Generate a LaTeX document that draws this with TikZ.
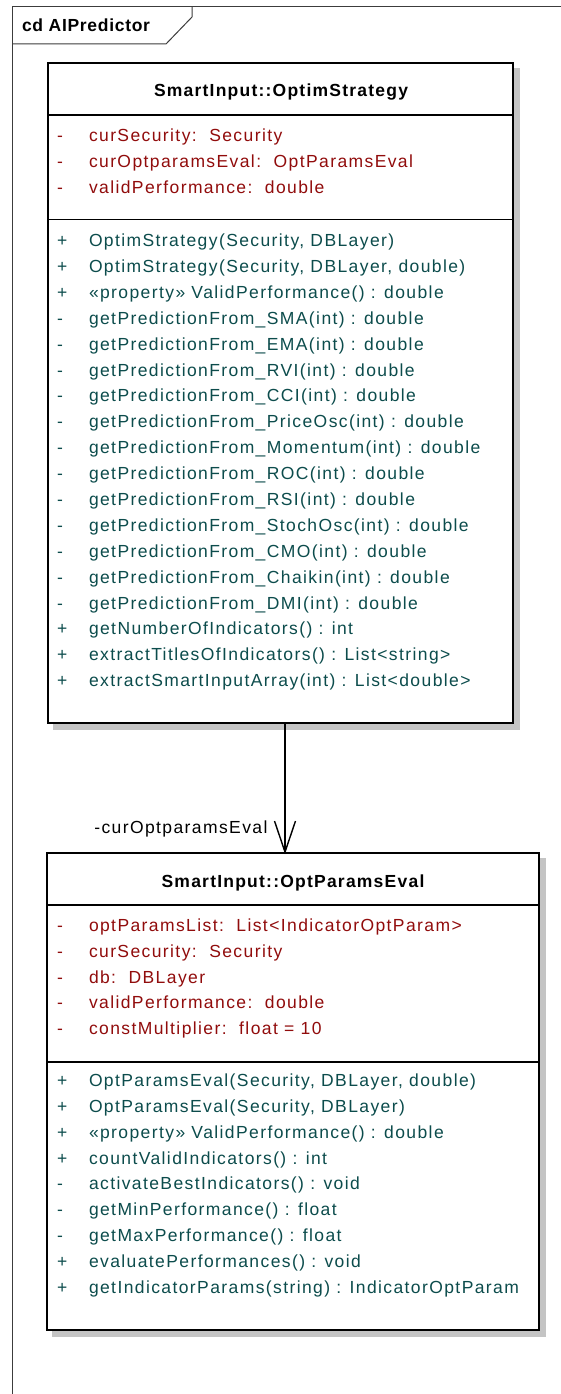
\documentclass[tikz,border=0pt]{standalone}
\usepackage{fontspec}
\setmainfont{Liberation Sans}
\usetikzlibrary{backgrounds}
\definecolor{attrc}{RGB}{145,12,12}
\definecolor{operc}{RGB}{12,76,76}
\definecolor{shadowc}{RGB}{196,196,196}
\definecolor{framec}{RGB}{60,60,60}
\begin{document}
\begin{tikzpicture}[x=1pt,y=-1pt,
  txt/.style={inner sep=0pt, outer sep=0pt, font=\fontsize{17.5}{19}\selectfont\addfontfeatures{LetterSpace=8}},
  ttl/.style={txt, font=\fontsize{17.5}{19}\selectfont\bfseries\addfontfeatures{LetterSpace=7}},
  tabttl/.style={txt, font=\fontsize{17.5}{19}\selectfont\bfseries\addfontfeatures{LetterSpace=4}},
  attr/.style={txt, text=attrc, anchor=base west},
  oper/.style={txt, text=operc, anchor=base west},
  classbox/.style={draw=black, line width=2pt, fill=white, anchor=north west, inner sep=0pt},
  sep/.style={draw=black, line width=1.4pt},
  framel/.style={draw=framec, line width=1pt},
  assoc/.style={draw=black, line width=1.4pt},
  shade/.style={fill=shadowc}]
\useasboundingbox (0,0) rectangle (561,1394);

% diagram frame and its name tab
\draw[framel] (12,1394) -- (12,7) -- (561,7);
\draw[framel] (12,44) -- (166,44) -- (192,17) -- (192,7);
\node[tabttl, anchor=base west] (frame-title) at (22,31.7) {cd AIPredictor};

% ---------- class OptimStrategy ----------
\node[classbox, minimum width=465pt, minimum height=660pt] (os) at (47,62) {};
\coordinate (os-h1) at (0,115);
\coordinate (os-h2) at (0,219.5);
\draw[sep] (os.west |- os-h1) -- (os.east |- os-h1);
\draw[sep] (os.west |- os-h2) -- (os.east |- os-h2);
\node[ttl, anchor=base] (os-title) at (281,96.7) {SmartInput::OptimStrategy};
\foreach \s/\t [count=\i from 0] in {
  -/{curSecurity:~~Security},
  -/{curOptparamsEval:~~OptParamsEval},
  -/{validPerformance:~~double}} {
  \node[attr] (os-as\i) at (57,141.5+25.9*\i) {\s};
  \node[attr] (os-a\i) at (89,141.5+25.9*\i) {\t};
}
\foreach \s/\t [count=\i from 0] in {
  +/{OptimStrategy(Security, DBLayer)},
  +/{OptimStrategy(Security, DBLayer, double)},
  +/{«property» ValidPerformance() : double},
  -/{getPredictionFrom\_SMA(int) : double},
  -/{getPredictionFrom\_EMA(int) : double},
  -/{getPredictionFrom\_RVI(int) : double},
  -/{getPredictionFrom\_CCI(int) : double},
  -/{getPredictionFrom\_PriceOsc(int) : double},
  -/{getPredictionFrom\_Momentum(int) : double},
  -/{getPredictionFrom\_ROC(int) : double},
  -/{getPredictionFrom\_RSI(int) : double},
  -/{getPredictionFrom\_StochOsc(int) : double},
  -/{getPredictionFrom\_CMO(int) : double},
  -/{getPredictionFrom\_Chaikin(int) : double},
  -/{getPredictionFrom\_DMI(int) : double},
  +/{getNumberOfIndicators() : int},
  +/{extractTitlesOfIndicators() : List<string>},
  +/{extractSmartInputArray(int) : List<double>}} {
  \node[oper] (os-os\i) at (57,246.7+25.88*\i) {\s};
  \node[oper] (os-o\i) at (89,246.7+25.88*\i) {\t};
}

% ---------- class OptParamsEval ----------
\node[classbox, minimum width=492pt, minimum height=477pt] (ope) at (46,852) {};
\coordinate (ope-h1) at (0,905);
\coordinate (ope-h2) at (0,1062);
\draw[sep] (ope.west |- ope-h1) -- (ope.east |- ope-h1);
\draw[sep] (ope.west |- ope-h2) -- (ope.east |- ope-h2);
\node[ttl, anchor=base] (ope-title) at (293,887.7) {SmartInput::OptParamsEval};
\foreach \s/\t [count=\i from 0] in {
  -/{optParamsList:~~List<IndicatorOptParam>},
  -/{curSecurity:~~Security},
  -/{db:~~DBLayer},
  -/{validPerformance:~~double},
  -/{constMultiplier:~~float = 10}} {
  \node[attr] (ope-as\i) at (57,931.7+25.75*\i) {\s};
  \node[attr] (ope-a\i) at (89,931.7+25.75*\i) {\t};
}
\foreach \s/\t [count=\i from 0] in {
  +/{OptParamsEval(Security, DBLayer, double)},
  +/{OptParamsEval(Security, DBLayer)},
  +/{«property» ValidPerformance() : double},
  +/{countValidIndicators() : int},
  -/{activateBestIndicators() : void},
  -/{getMinPerformance() : float},
  -/{getMaxPerformance() : float},
  +/{evaluatePerformances() : void},
  +/{getIndicatorParams(string) : IndicatorOptParam}} {
  \node[oper] (ope-os\i) at (57,1086.7+25.82*\i) {\s};
  \node[oper] (ope-o\i) at (89,1086.7+25.82*\i) {\t};
}

% drop shadows behind both classes
\begin{scope}[on background layer]
  \fill[shade] ([xshift=6pt,yshift=-6pt]os.north west) rectangle ([xshift=6pt,yshift=-6pt]os.south east);
  \fill[shade] ([xshift=6pt,yshift=-6pt]ope.north west) rectangle ([xshift=6pt,yshift=-6pt]ope.south east);
\end{scope}

% navigable association OptimStrategy -> OptParamsEval
\coordinate (ax) at (285,0);
\coordinate (tip) at (ope.north -| ax);
\draw[assoc] (os.south -| ax) -- (tip);
\draw[assoc, line join=miter] ([shift={(-10.5,-31)}]tip) -- (tip) -- ([shift={(10.5,-31)}]tip);
\node[txt, anchor=base east] (role) at (267.5,833.3) {-curOptparamsEval};
\end{tikzpicture}
\end{document}
